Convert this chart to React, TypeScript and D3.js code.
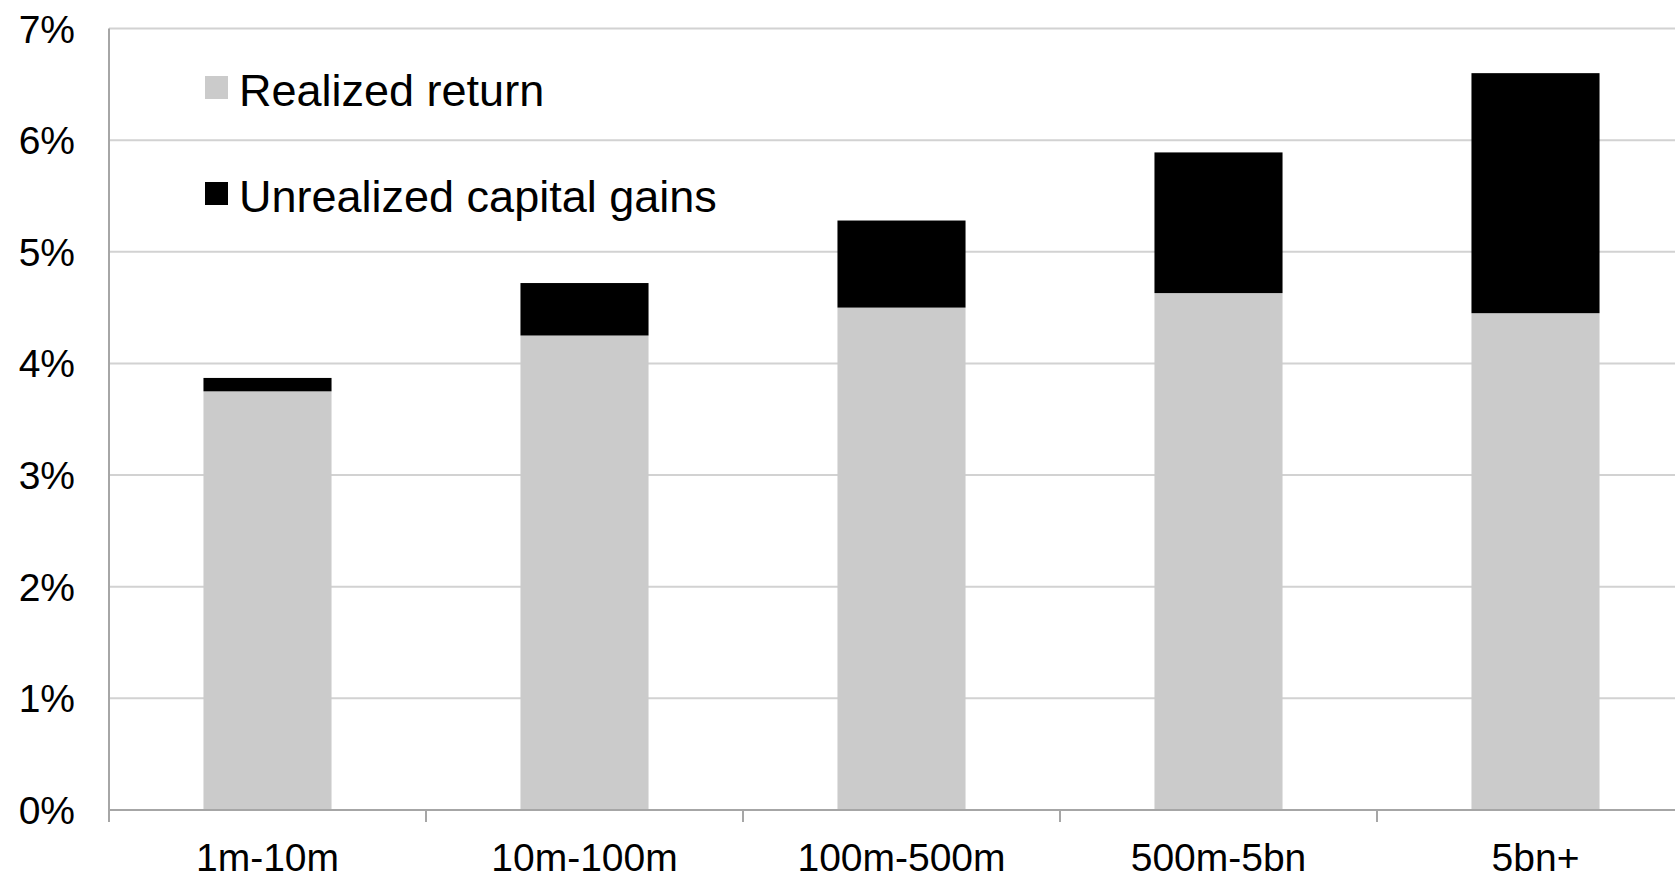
import { useEffect, useRef } from 'react';
import { select, scaleBand, scaleLinear, range } from 'd3';

const categories = ['1m-10m', '10m-100m', '100m-500m', '500m-5bn', '5bn+'];
const realized = [3.75, 4.25, 4.5, 4.63, 4.45];
const unrealized = [0.12, 0.47, 0.78, 1.26, 2.15];
const yTicks = [0, 1, 2, 3, 4, 5, 6, 7];
const legendItems = [
  { label: 'Realized return', color: '#cbcbcb' },
  { label: 'Unrealized capital gains', color: '#000000' },
];

const WIDTH = 1675;
const HEIGHT = 879;
const FONT = '"Liberation Sans", Arial, sans-serif';

export default function App() {
  const svgRef = useRef<SVGSVGElement | null>(null);

  useEffect(() => {
    if (!svgRef.current) return;
    const svg = select(svgRef.current);
    svg.selectAll('*').remove();

    // the plot area runs a little past the right edge of the picture
    const left = 109;
    const step = 317;
    const right = left + step * categories.length;
    const top = 28.5;
    const bottom = 810;

    const x = scaleBand<string>()
      .domain(categories)
      .range([left, right])
      .paddingInner(0.596)
      .paddingOuter(0.298);

    const y = scaleLinear().domain([0, 7]).range([bottom, top]);

    // gridlines
    svg.append('g')
      .selectAll('line')
      .data(yTicks.filter((t) => t > 0))
      .enter()
      .append('line')
      .attr('x1', left)
      .attr('x2', right)
      .attr('y1', (d) => y(d))
      .attr('y2', (d) => y(d))
      .attr('stroke', '#d2d2d2')
      .attr('stroke-width', 2);

    // y tick labels
    svg.append('g')
      .selectAll('text')
      .data(yTicks)
      .enter()
      .append('text')
      .attr('x', 75)
      .attr('y', (d) => y(d) + 14)
      .attr('text-anchor', 'end')
      .attr('font-family', FONT)
      .attr('font-size', 39)
      .attr('fill', '#000')
      .text((d) => `${d}%`);

    // bars
    const bars = svg.append('g');
    categories.forEach((c, i) => {
      const bx = x(c) || 0;
      bars.append('rect')
        .attr('x', bx)
        .attr('y', y(realized[i]))
        .attr('width', x.bandwidth())
        .attr('height', y(0) - y(realized[i]))
        .attr('fill', '#cbcbcb');
      bars.append('rect')
        .attr('x', bx)
        .attr('y', y(realized[i] + unrealized[i]))
        .attr('width', x.bandwidth())
        .attr('height', y(realized[i]) - y(realized[i] + unrealized[i]))
        .attr('fill', '#000');
    });

    // axes
    svg.append('line')
      .attr('x1', left).attr('x2', left)
      .attr('y1', top).attr('y2', bottom + 12)
      .attr('stroke', '#a6a6a6').attr('stroke-width', 2);
    svg.append('line')
      .attr('x1', left).attr('x2', right)
      .attr('y1', bottom).attr('y2', bottom)
      .attr('stroke', '#a6a6a6').attr('stroke-width', 2);
    svg.append('g')
      .selectAll('line')
      .data(range(categories.length + 1))
      .enter()
      .append('line')
      .attr('x1', (i) => left + i * step)
      .attr('x2', (i) => left + i * step)
      .attr('y1', bottom)
      .attr('y2', bottom + 12)
      .attr('stroke', '#a6a6a6')
      .attr('stroke-width', 2);

    // x labels
    svg.append('g')
      .selectAll('text')
      .data(categories)
      .enter()
      .append('text')
      .attr('x', (d) => (x(d) || 0) + x.bandwidth() / 2)
      .attr('y', 871)
      .attr('text-anchor', 'middle')
      .attr('font-family', FONT)
      .attr('font-size', 39)
      .attr('fill', '#000')
      .text((d) => d);

    // legend
    const legend = svg.append('g');
    legendItems.forEach((item, i) => {
      legend.append('rect')
        .attr('x', 205)
        .attr('y', 76 + i * 106)
        .attr('width', 23)
        .attr('height', 23)
        .attr('fill', item.color);
      legend.append('text')
        .attr('x', 239)
        .attr('y', 106 + i * 106)
        .attr('font-family', FONT)
        .attr('font-size', 45)
        .attr('fill', '#000')
        .text(item.label);
    });
  }, []);

  return (
    <svg
      ref={svgRef}
      width={WIDTH}
      height={HEIGHT}
      style={{ position: 'absolute', left: 0, top: 0, background: '#fff' }}
    />
  );
}
